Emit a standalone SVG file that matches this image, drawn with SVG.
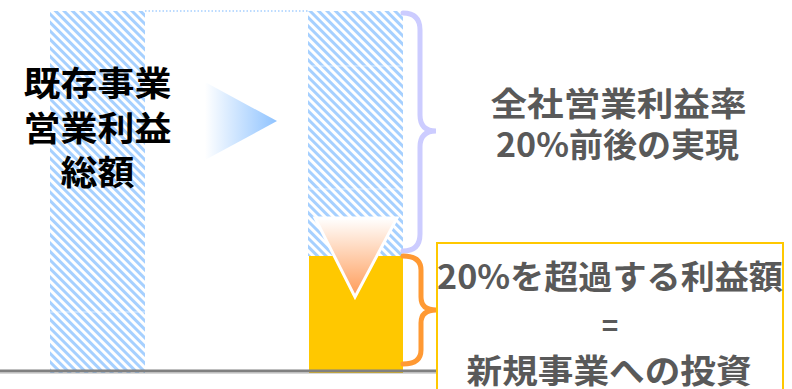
<svg xmlns="http://www.w3.org/2000/svg" width="792" height="389" viewBox="0 0 792 389">
<defs>
<pattern id="hatch" patternUnits="userSpaceOnUse" width="6" height="6" patternTransform="rotate(-45)">
<rect width="6" height="6" fill="#ffffff"/>
<rect width="3" height="6" fill="#a6d0ff"/>
</pattern>
<linearGradient id="gArrow" x1="0" y1="0" x2="1" y2="0">
<stop offset="0" stop-color="#ffffff"/>
<stop offset="1" stop-color="#8fc3ff"/>
</linearGradient>
<linearGradient id="gDown" x1="0" y1="0" x2="0" y2="1">
<stop offset="0" stop-color="#ffffff"/>
<stop offset="1" stop-color="#ff9a55"/>
</linearGradient>
<style>
.jp{font-family:"Noto Sans CJK JP","Noto Sans",sans-serif;font-weight:bold;text-anchor:middle}
.dark{fill:#000000;font-size:34px}
.gray{fill:#595959;font-size:33px;font-weight:bold}
.brace{fill:none;stroke-width:5;stroke-linecap:round}
.sep{stroke:#ffffff;stroke-opacity:0.6;stroke-width:1}
</style>
</defs>
<g id="left-bar">
<rect x="50" y="11" width="95" height="362" fill="url(#hatch)"/>
<line class="sep" x1="50" y1="312" x2="145" y2="312"/>
</g>
<g id="right-bar">
<rect x="308" y="11" width="95" height="245" fill="url(#hatch)"/>
<line class="sep" x1="308" y1="66" x2="403" y2="66"/>
<line class="sep" x1="308" y1="189" x2="403" y2="189"/>
<rect x="309" y="256" width="94" height="117" fill="#ffc800"/>
</g>
<g id="connectors">
<line x1="145" y1="11" x2="308" y2="11" stroke="#a6d0ff" stroke-width="1.5" stroke-dasharray="1.5 2"/>
<line x1="0" y1="371" x2="437" y2="371" stroke="#808080" stroke-width="3"/>
<line x1="0" y1="373.5" x2="437" y2="373.5" stroke="#d8d8d8" stroke-width="1"/>
<path class="brace" stroke="#ccccff" d="M403,13 Q420,13 420,30 L420,115 Q420,131 436,131 Q420,131 420,147 L420,234 Q420,251 403,251"/>
<path class="brace" stroke="#ff9933" d="M403,256 Q421,256 421,270 L421,297 Q421,310 436,310 Q421,310 421,323 L421,350 Q421,364 403,364"/>
</g>
<g id="arrow-right">
<polygon points="205,82 277,121 205,160" fill="url(#gArrow)"/>
</g>
<g id="arrow-down">
<polygon points="315,218 397,218 355,297" fill="url(#gDown)" stroke="#ffffff" stroke-width="3" stroke-linejoin="miter"/>
</g>
<g id="label-left">
<text class="jp dark" x="97.5" y="96" textLength="148" lengthAdjust="spacingAndGlyphs">既存事業</text>
<text class="jp dark" x="97.5" y="141" textLength="148" lengthAdjust="spacingAndGlyphs">営業利益</text>
<text class="jp dark" x="97.5" y="185" textLength="74" lengthAdjust="spacingAndGlyphs">総額</text>
</g>
<g id="label-right">
<text class="jp gray" x="618.5" y="116" textLength="256" lengthAdjust="spacingAndGlyphs">全社営業利益率</text>
<text class="jp gray" x="617.5" y="157" textLength="243" lengthAdjust="spacingAndGlyphs">20%前後の実現</text>
</g>
<g id="box">
<rect x="437" y="243" width="346" height="160" fill="#ffffff" stroke="#ffc800" stroke-width="2"/>
<text class="jp gray" x="610" y="289" textLength="346" lengthAdjust="spacingAndGlyphs">20%を超過する利益額</text>
<text class="jp gray" x="610" y="336" style="font-size:28px">=</text>
<text class="jp gray" x="609" y="383" textLength="285" lengthAdjust="spacingAndGlyphs">新規事業への投資</text>
</g>
</svg>
